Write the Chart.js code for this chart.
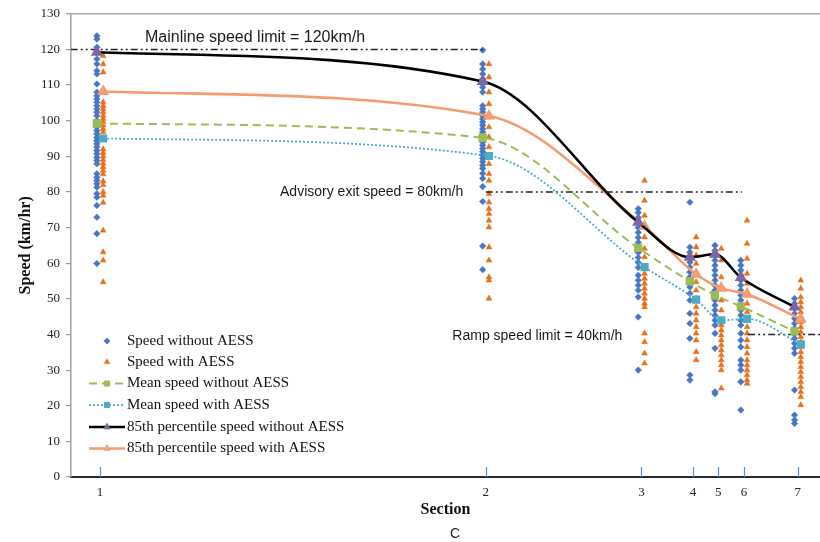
<!DOCTYPE html>
<html>
<head>
<meta charset="utf-8">
<script src="https://cdn.jsdelivr.net/npm/chart.js@4.4.1/dist/chart.umd.min.js"></script>
<style>
  html, body { margin: 0; padding: 0; background: #fff; }
</style>
</head>
<body>
<canvas id="speedChart" width="820" height="542"></canvas>
<script>
// ---- data ----
const sectionLabels = ['1', '2', '3', '4', '5', '6', '7'];
// relative position of each section along the ramp (section 1 = 0, section 7 = 100)
const sectionPos = [0, 55.3, 77.6, 85.0, 88.6, 92.3, 100];

// spot speeds, one list per section
const speedWithout = [
  [123.8, 122.9, 120.6, 119.2, 117.3, 115.9, 114, 113.1, 110.3, 108, 107, 106.1, 105.2, 104.2, 103.3, 102.4,
   101.4, 100, 99.1, 98.2, 97.2, 96.3, 95.3, 94.4, 93.5, 92.6, 91.6, 90.7, 89.7, 88.8, 87.9, 85.1, 84.1,
   83.2, 82.3, 81.3, 79.5, 78.5, 76.2, 72.9, 68.3, 59.9],
  [119.8, 115.9, 114.5, 113.1, 111.7, 110.3, 109.4, 108, 104.2, 103.3, 102.4, 101.4, 100.5, 99.6, 98.7, 97.7,
   96.8, 95.9, 94.9, 94, 93.1, 92.2, 91.3, 90.3, 89.4, 88.5, 87.5, 86.6, 85.2, 83.8, 81.5, 77.3, 64.8, 58.2],
  [75.3, 74.2, 72.8, 71.4, 70, 68.6, 67.2, 65.8, 64.4, 63, 61.6, 60.2, 58.8, 56.6, 55.2, 53.8, 52.4, 50.5, 44.9, 30],
  [77.1, 64.5, 63.1, 61.7, 60.3, 58.9, 57.5, 56.1, 54.7, 53.3, 51.5, 49.6, 45.9, 43.1, 38.9, 28.6, 27.2],
  [65, 63.6, 62.2, 60.8, 59.4, 58, 56.6, 55.2, 53.8, 52.4, 51, 49.6, 48.2, 46.8, 45.4, 44, 42.6, 40.3, 36.1, 23.9, 23.4],
  [60.8, 59.4, 58, 56.6, 55.2, 53.8, 52.4, 51, 49.6, 48.2, 46.8, 45.4, 44, 42.6, 40.3, 38.4, 36.5, 32.8, 31.4,
   30, 26.7, 18.8],
  [50.1, 48.7, 47.3, 45.9, 44.5, 43.1, 41.7, 40.3, 38.9, 37.5, 36.1, 34.7, 24.4, 17.4, 16, 15]
];
const speedWith = [
  [118.2, 115.9, 113.6, 108.4, 105.2, 104.2, 103.3, 102.4, 101.4, 100.5, 99.6, 98.7, 97.7, 96.8, 94.9,
   92, 91, 90, 89, 88, 87, 86, 85, 83, 82, 80, 79, 77, 69.2, 63.1, 60.8, 54.7],
  [115.9, 112.2, 108, 104.7, 101, 98.2, 95.4, 92.6, 90.2, 87.9, 85.1, 83.2, 79.5, 77.1, 75.3, 73.9, 72, 70.1,
   64.5, 60.8, 56.1, 55.2, 50.1],
  [83.2, 77.6, 73.4, 70.6, 67.3, 64.1, 61.7, 58.9, 57.1, 55.7, 54.3, 52.9, 51.5, 50.1, 48.7, 47.7, 40.3, 37.9,
   34.7, 31.9],
  [67.3, 64.5, 62.2, 59.9, 57.1, 54.7, 52.4, 50.1, 47.7, 45.9, 44, 42.1, 40.3, 38.4, 35.1, 32.8],
  [64.1, 60.8, 56.1, 52.9, 49.6, 46.8, 44, 42.6, 41.2, 39.8, 38.4, 37, 35.6, 34.2, 32.8, 31.4, 30, 24.9],
  [72, 65.5, 61.3, 57.1, 54.3, 51.5, 48.7, 46.3, 44, 42.1, 40.3, 38.4, 36.5, 34.7, 32.8, 31.4, 30, 28.6,
   27.2, 26.2],
  [55.2, 52.9, 50.5, 49.1, 47.7, 46.3, 44.9, 43.5, 42.1, 40.7, 39.3, 37.9, 36.5, 35.1, 33.7, 32.3, 30.9,
   29.5, 28.1, 26.7, 25.3, 23.9, 22.5, 20.2]
];

const meanWithout = [99.2, 95.2, 64.3, 54.9, 51, 47.9, 40.9];
const meanWith = [95, 90.1, 58.9, 49.8, 44, 44.4, 37.2];
const p85Without = [119.2, 111, 71.5, 61.7, 62.5, 56, 47.7];
const p85With = [108.2, 101.3, 70.3, 56.9, 53, 51.3, 44.3];

// speed limit reference lines: [from x, to x] at a speed
const mainlineLimit = { speed: 120, span: [-4.2, 55.3] };
const advisoryLimit = { speed: 80, span: [55.3, 92.0] };
const rampLimit = { speed: 40, span: [92.9, 103.2] };
const limitNotes = [
  'Mainline speed limit = 120km/h',
  'Advisory exit speed = 80km/h',
  'Ramp speed limit = 40km/h'
];
const panelTag = 'C';

const yTicks = [0, 10, 20, 30, 40, 50, 60, 70, 80, 90, 100, 110, 120, 130];

// ---- helpers ----
const SHIFT = 0.45; // "without" marks sit just left of the section, "with" just right

function spread(groups, shift) {
  const pts = [];
  groups.forEach((g, i) => g.forEach(v => pts.push({ x: sectionPos[i] + shift, y: v })));
  return pts;
}
function series(vals, shift) {
  return vals.map((v, i) => ({ x: sectionPos[i] + shift, y: v }));
}
function limitLine(l) {
  return [{ x: l.span[0], y: l.speed }, { x: l.span[1], y: l.speed }];
}

const SERIF = '"Liberation Serif", "Times New Roman", serif';
const SANS = '"Liberation Sans", Arial, sans-serif';
const LIMIT_DASH = [7, 3, 2, 3, 2, 3];
const CURVE = { showLine: true, cubicInterpolationMode: 'monotone' };

const datasets = [
  {
    ...CURVE, label: '85th percentile speed without AESS', data: series(p85Without, -SHIFT),
    borderColor: '#000', borderWidth: 2.6,
    pointStyle: 'triangle', pointRadius: 4.5, pointBackgroundColor: '#8064a2', pointBorderColor: '#8064a2',
    order: 0
  },
  {
    ...CURVE, label: '85th percentile speed with AESS', data: series(p85With, SHIFT),
    borderColor: '#f59c6e', borderWidth: 2.6,
    pointStyle: 'triangle', pointRadius: 4.5, pointBackgroundColor: '#f7a57a', pointBorderColor: '#f59c6e',
    order: 0
  },
  {
    ...CURVE, label: 'Mean speed without AESS', data: series(meanWithout, -SHIFT),
    borderColor: '#9bbb59', borderWidth: 2, borderDash: [8, 5],
    pointStyle: 'rect', pointRadius: 4.5, pointBackgroundColor: '#9bbb59', pointBorderColor: '#9bbb59',
    order: 0
  },
  {
    ...CURVE, label: 'Mean speed with AESS', data: series(meanWith, SHIFT),
    borderColor: '#4bacc6', borderWidth: 1.8, borderDash: [2, 2],
    pointStyle: 'rect', pointRadius: 4.5, pointBackgroundColor: '#4bacc6', pointBorderColor: '#4bacc6',
    order: 0
  },
  {
    label: 'Speed with AESS', data: spread(speedWith, SHIFT),
    pointStyle: 'triangle', pointRadius: 3.4, backgroundColor: '#e8701a', borderColor: '#e8701a',
    borderWidth: 0.5, order: 2
  },
  {
    label: 'Speed without AESS', data: spread(speedWithout, -SHIFT),
    pointStyle: 'rectRot', pointRadius: 3.3, backgroundColor: '#4677c4', borderColor: '#4677c4',
    borderWidth: 0.5, order: 2
  }
];
[mainlineLimit, advisoryLimit, rampLimit].forEach(l => datasets.push({
  label: 'limit ' + l.speed, data: limitLine(l), showLine: true, tension: 0,
  borderColor: '#222', borderWidth: 1.5, borderDash: LIMIT_DASH, pointRadius: 0, order: 1
}));

// legend rows, top to bottom as in the figure
const legendOrder = [
  'Speed without AESS', 'Speed with AESS', 'Mean speed without AESS', 'Mean speed with AESS',
  '85th percentile speed without AESS', '85th percentile speed with AESS'
];

// ---- extra drawing: frame, inside ticks, limit notes, legend, panel tag ----
const decor = {
  id: 'decor',
  afterDraw(chart) {
    const { ctx, chartArea: a, scales: { x, y } } = chart;
    ctx.save();

    // top frame line
    ctx.strokeStyle = '#a8a8a8';
    ctx.lineWidth = 1.6;
    ctx.beginPath(); ctx.moveTo(a.left, a.top); ctx.lineTo(a.right, a.top); ctx.stroke();

    // section ticks pointing up into the plot
    ctx.strokeStyle = '#5b8fd0';
    ctx.lineWidth = 1.2;
    sectionPos.forEach(p => {
      const px = Math.round(x.getPixelForValue(p)) + 0.5;
      ctx.beginPath(); ctx.moveTo(px, a.bottom - 10); ctx.lineTo(px, a.bottom); ctx.stroke();
    });

    // limit notes
    ctx.fillStyle = '#1a1a1a';
    ctx.textBaseline = 'middle';
    ctx.textAlign = 'left';
    ctx.font = '16px ' + SANS;
    ctx.fillText(limitNotes[0], x.getPixelForValue(6.45), y.getPixelForValue(123.3));
    ctx.font = '14px ' + SANS;
    ctx.fillText(limitNotes[1], x.getPixelForValue(25.8), y.getPixelForValue(79.9));
    ctx.fillText(limitNotes[2], x.getPixelForValue(50.5), y.getPixelForValue(39.5));

    // legend
    const rowY = [341, 362, 383.5, 405, 427, 448.5];
    const symX = 107, lineL = 89, lineR = 125, textX = 127;
    ctx.font = '15px ' + SERIF;
    legendOrder.forEach((name, i) => {
      const ds = chart.data.datasets.find(d => d.label === name);
      const yy = rowY[i];
      if (ds.showLine) {
        ctx.strokeStyle = ds.borderColor;
        ctx.lineWidth = ds.borderWidth;
        ctx.setLineDash(ds.borderDash || []);
        ctx.beginPath(); ctx.moveTo(lineL, yy); ctx.lineTo(lineR, yy); ctx.stroke();
        ctx.setLineDash([]);
        ctx.fillStyle = ds.pointBackgroundColor;
        ctx.strokeStyle = ds.pointBorderColor;
        ctx.lineWidth = 1;
        Chart.helpers.drawPoint(ctx, { pointStyle: ds.pointStyle, radius: 3.6, rotation: 0, borderWidth: 1 }, symX, yy);
      } else {
        ctx.fillStyle = ds.backgroundColor;
        ctx.strokeStyle = ds.borderColor;
        ctx.lineWidth = 0.5;
        Chart.helpers.drawPoint(ctx, { pointStyle: ds.pointStyle, radius: 3.2, rotation: 0, borderWidth: 0.5 }, symX, yy);
      }
      ctx.fillStyle = '#111';
      ctx.fillText(name, textX, yy);
    });

    // panel tag under the axis title
    ctx.font = '14px ' + SANS;
    ctx.textAlign = 'center';
    ctx.fillStyle = '#222';
    ctx.fillText(panelTag, 455, 534);

    ctx.restore();
  }
};

new Chart(document.getElementById('speedChart'), {
  type: 'scatter',
  data: { datasets },
  plugins: [decor],
  options: {
    responsive: false,
    animation: false,
    devicePixelRatio: 1,
    layout: { autoPadding: false, padding: { top: 13, right: 0, bottom: 17, left: 0 } },
    plugins: {
      legend: { display: false },
      tooltip: { enabled: false }
    },
    scales: {
      x: {
        type: 'linear', min: -4.16, max: 103.2,
        afterBuildTicks: s => { s.ticks = sectionPos.map(v => ({ value: v })); },
        afterFit: s => { s.height = 48; s.paddingLeft = 0; s.paddingRight = 0; },
        grid: { display: false, drawTicks: false },
        border: { display: true, color: '#2b2b2b', width: 2 },
        ticks: {
          color: '#222', padding: 8, maxRotation: 0, autoSkip: false,
          font: { family: SERIF, size: 13 },
          callback: (v, i) => sectionLabels[i]
        },
        title: {
          display: true, text: 'Section', color: '#111',
          font: { family: SERIF, size: 16, weight: 'bold' }, padding: { top: 0, bottom: 6 }
        }
      },
      y: {
        min: 0, max: 130,
        afterBuildTicks: s => { s.ticks = yTicks.map(v => ({ value: v })); },
        afterFit: s => { s.width = 71; },
        grid: { display: true, drawOnChartArea: false, drawTicks: true, tickLength: 5, color: '#9a9a9a', lineWidth: 1.2 },
        border: { display: true, color: '#a6a6a6', width: 1.6 },
        ticks: { color: '#222', padding: 6, font: { family: SERIF, size: 13 } },
        title: {
          display: true, text: 'Speed (km/hr)', color: '#111',
          font: { family: SERIF, size: 16, weight: 'bold' }, padding: { top: 16, bottom: 0 }
        }
      }
    }
  }
});
</script>
</body>
</html>
